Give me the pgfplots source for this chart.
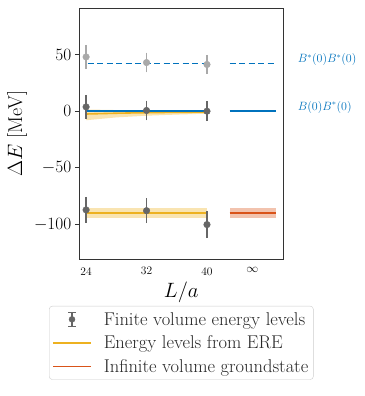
\documentclass[border=0pt]{standalone}
\usepackage{pgfplots}
\pgfplotsset{compat=1.18}
\definecolor{mblue}{HTML}{0072BD}
\definecolor{mred}{HTML}{D95319}
\definecolor{myel}{HTML}{EDB120}
\definecolor{dgray}{HTML}{666666}
\definecolor{lgray}{HTML}{A9A9A9}
\definecolor{frame}{HTML}{333333}
\begin{document}
\begin{tikzpicture}
\path (0pt,0pt) rectangle (364pt,396pt);
\begin{axis}[at={(79.3pt,136.7pt)},anchor=south west,
scale only axis,width=204pt,height=251pt,
xmin=23.1,xmax=50.1,ymin=-131,ymax=91,
clip=false,
axis line style={frame,line width=1.1pt},
xtick={24,32,40,46},xticklabels={24,32,40,$\infty$},
major x tick style={draw=none},
ytick={-100,-50,0,50},ytick pos=left,tick align=outside,
major tick length=4.5pt,
major y tick style={frame,line width=0.9pt},
x tick label style={font=\fontsize{11.5}{13}\selectfont},
y tick label style={font=\fontsize{16}{18}\selectfont},
xlabel={$L/a$},ylabel={$\Delta E$ [MeV]},
label style={font=\fontsize{20}{23}\selectfont},
legend style={at={(0.5,-0.186)},anchor=north,draw=gray!40,rounded corners=3pt,
  font=\fontsize{18.5}{21}\selectfont,row sep=5pt,column sep=10pt,
  inner xsep=3pt,inner ysep=4pt,text=black!85},
legend cell align=left,
legend image code/.code={\draw[#1,line width=1.5pt] (0pt,0pt) -- (38pt,0pt);},
]
\addlegendimage{legend image code/.code={
  \draw[dgray,line width=1.3pt] (19pt,-7pt) -- (19pt,7pt);
  \draw[dgray,line width=1.3pt] (15pt,-7pt) -- (23pt,-7pt);
  \draw[dgray,line width=1.3pt] (15pt,7pt) -- (23pt,7pt);
  \fill[dgray] (19pt,0pt) circle (3pt);}}
\addlegendentry{Finite volume energy levels}
\addlegendimage{myel}
\addlegendentry{Energy levels from ERE}
\addlegendimage{mred}
\addlegendentry{Infinite volume groundstate}

% non-interacting levels
\addplot[forget plot,draw=mblue,line width=1.6pt] coordinates {(24,0) (40.1,0)};
\addplot[forget plot,draw=mblue,line width=1.6pt] coordinates {(43,0) (49.1,0)};
\addplot[forget plot,draw=mblue,line width=1.6pt,dash pattern=on 6pt off 3.5pt] coordinates {(24.2,42.2) (40.1,42.2)};
\addplot[forget plot,draw=mblue,line width=1.6pt,dash pattern=on 6pt off 3.5pt] coordinates {(43,42.2) (49.1,42.2)};

% ERE bands
\addplot[forget plot,fill=myel!35,draw=none] coordinates {
(24,1.5) (28,1.0) (32,0.8) (36,0.5) (40,0.3)
(40,-2.2) (36,-3.0) (32,-4.0) (28,-5.5) (24,-8.0)} -- cycle;
\addplot[forget plot,fill=myel!35,draw=none] coordinates {
(24,-85.5) (40,-85.5) (40,-94.5) (24,-94.5)} -- cycle;
\addplot[forget plot,fill=mred!35,draw=none] coordinates {
(43,-85.8) (49.1,-85.8) (49.1,-94.8) (43,-94.8)} -- cycle;

% ERE lines
\addplot[forget plot,draw=myel,line width=1.6pt] coordinates {
(24,-2.5) (28,-1.8) (32,-1.3) (36,-1.0) (40,-0.8)};
\addplot[forget plot,draw=mblue,line width=1.6pt] coordinates {(24,0) (40.1,0)};
\addplot[forget plot,draw=myel,line width=1.6pt] coordinates {(24,-90) (40,-90)};
\addplot[forget plot,draw=mred,line width=1.6pt] coordinates {(43,-90.3) (49.1,-90.3)};

% lattice levels
\addplot[forget plot,only marks,mark=*,mark size=3.3pt,lgray,
  error bars/.cd,y dir=both,y explicit,
  error bar style={line width=1.3pt,lgray},
  error mark options={lgray,line width=1.3pt,mark size=4pt}]
  coordinates {(24,48) +- (0,7.2) (32,43) +- (0,5.2) (40,41.3) +- (0,5)};
\addplot[forget plot,only marks,mark=*,mark size=3.3pt,dgray,
  error bars/.cd,y dir=both,y explicit,
  error bar style={line width=1.3pt,dgray},
  error mark options={dgray,line width=1.3pt,mark size=4pt}]
  coordinates {(24,3.8) +- (0,7) (32,0.6) +- (0,5.2) (40,0) +- (0,5.2)
  (24,-87.3) +- (0,8) (32,-88) +- (0,7.5) (40,-100.3) +- (0,8.5)};

\node[anchor=west,mblue,font=\fontsize{12}{14}\selectfont,xshift=11pt,yshift=4pt] at (axis cs:50.1,42.2) {$B^*(0)B^*(0)$};
\node[anchor=west,mblue,font=\fontsize{12}{14}\selectfont,xshift=11pt,yshift=4pt] at (axis cs:50.1,0) {$B(0)B^*(0)$};
\end{axis}
\end{tikzpicture}
\end{document}
